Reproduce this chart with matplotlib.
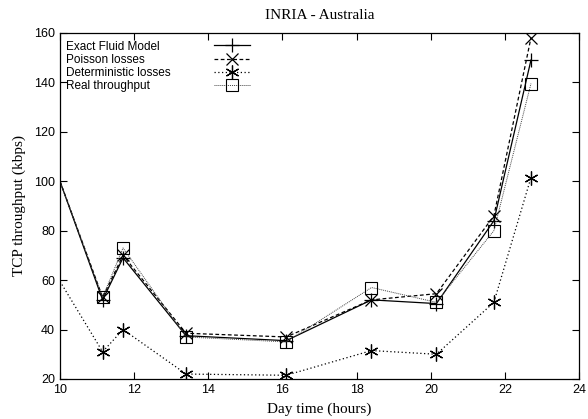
import matplotlib
matplotlib.use('Agg')
import matplotlib.pyplot as plt
from matplotlib.lines import Line2D

hours = [10, 11.15, 11.7, 13.4, 16.1, 18.4, 20.15, 21.7, 22.7]
exact_fluid = [100, 52, 69, 37.5, 35.5, 52, 50.5, 84, 149]
poisson = [100, 53, 70, 38.5, 37, 52, 54.5, 86, 158]
deterministic = [59.5, 31, 40, 22, 21.5, 31.5, 30, 51, 101.5]
real = [100, 53, 73, 37, 35, 57, 51, 80, 139.5]
labels = ['Exact Fluid Model', 'Poisson losses', 'Deterministic losses', 'Real throughput']

xticks = list(range(10, 25, 2))
yticks = list(range(20, 161, 20))

serif = ['Liberation Serif', 'DejaVu Serif']
sans = ['Liberation Sans', 'DejaVu Sans']

fig = plt.figure(figsize=(5.88, 4.19), dpi=100)
ax = fig.add_axes([0.102, 0.0955, 0.883, 0.826])

mk = list(range(1, len(hours)))
l1, = ax.plot(hours, exact_fluid, color='black', linestyle='solid', linewidth=0.9,
              marker='+', markersize=10, markeredgewidth=0.9, markevery=mk)
l2, = ax.plot(hours, poisson, color='black', linestyle=(0, (3, 2)), linewidth=0.9,
              marker='x', markersize=8, markeredgewidth=0.9, markevery=mk)
l3, = ax.plot(hours, deterministic, color='black', linestyle=(0, (1, 2)), linewidth=0.9,
              marker=(6, 2, 0), markersize=10, markeredgewidth=0.9, markevery=mk)
l4, = ax.plot(hours, real, color='#444444', linestyle=(0, (1, 1)), linewidth=0.7,
              marker='s', markersize=8, markerfacecolor='none', markeredgecolor='black',
              markeredgewidth=0.8, markevery=mk)
lines = [l1, l2, l3, l4]

ax.set_xlim(10, 24)
ax.set_ylim(20, 160)
ax.set_xticks(xticks)
ax.set_yticks(yticks)
ax.tick_params(direction='in', top=True, right=True, length=5, width=0.8, labelsize=9)
for lab in ax.get_xticklabels() + ax.get_yticklabels():
    lab.set_family(sans)
for sp in ax.spines.values():
    sp.set_linewidth(0.9)

ax.set_title('INRIA - Australia', family=serif, fontsize=11, pad=10)
ax.set_xlabel('Day time (hours)', family=serif, fontsize=11, labelpad=5)
ax.set_ylabel('TCP throughput (kbps)', family=serif, fontsize=11, labelpad=6)

# gnuplot style key: text left aligned, samples in a column to the right
legprops = {'family': sans, 'size': 8.5}
blank = [Line2D([], [], linestyle='none', marker='none') for _ in labels]
txt_leg = ax.legend(blank, labels, loc='upper left', bbox_to_anchor=(0.012, 0.978),
                    frameon=False, prop=legprops, handlelength=0, handletextpad=0,
                    labelspacing=0.1, borderaxespad=0, borderpad=0)
ax.add_artist(txt_leg)
ax.legend(lines, [''] * len(lines), loc='upper left', bbox_to_anchor=(0.296, 0.978),
          frameon=False, prop=legprops, handlelength=3.1, handletextpad=0,
          labelspacing=0.1, borderaxespad=0, borderpad=0)

fig.savefig('out.png', dpi=100)
plt.close(fig)
